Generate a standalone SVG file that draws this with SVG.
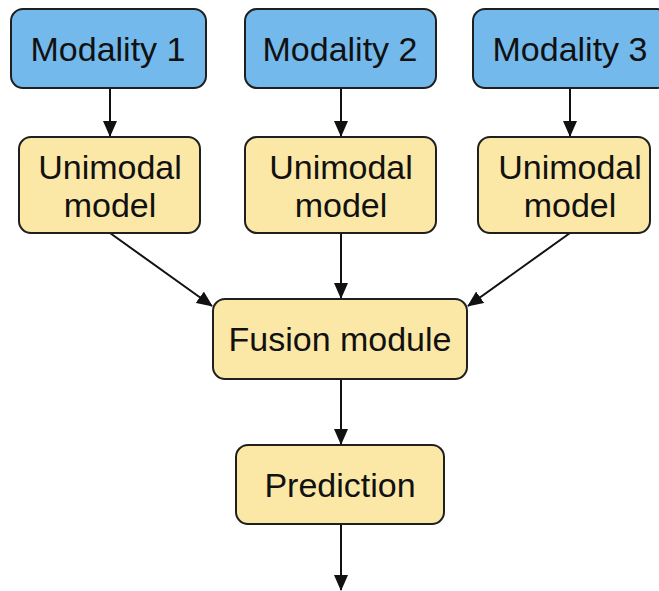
<svg xmlns="http://www.w3.org/2000/svg" width="659" height="591" viewBox="0 0 659 591">
<style>
.blue{fill:#74b9eb;stroke:#1f1f1f;stroke-width:2}
.yel{fill:#fbe8a6;stroke:#1f1f1f;stroke-width:2}
.t{font-family:"Liberation Sans",Arial,sans-serif;font-size:34px;fill:#111;text-anchor:middle}
.c{stroke:#111;stroke-width:2;fill:none;marker-end:url(#ah)}
</style>
<defs>
<marker id="ah" markerWidth="16" markerHeight="14" refX="15" refY="7" orient="auto" markerUnits="userSpaceOnUse">
<path d="M0,0 L16,7 L0,14 Z" fill="#111"/>
</marker>
</defs>
<rect width="659" height="591" fill="#fff"/>
<g id="connectors">
<line class="c" x1="110" y1="88" x2="110" y2="136"/>
<line class="c" x1="341" y1="88" x2="341" y2="136"/>
<line class="c" x1="570" y1="88" x2="570" y2="136"/>
<line class="c" x1="110" y1="233" x2="212" y2="306"/>
<line class="c" x1="341" y1="233" x2="341" y2="298"/>
<line class="c" x1="570" y1="233" x2="468" y2="306"/>
<line class="c" x1="341" y1="379" x2="341" y2="444"/>
<line class="c" x1="341" y1="524" x2="341" y2="590"/>
</g>
<g id="modality1"><rect class="blue" x="11" y="9" width="195" height="79" rx="12"/><text class="t" x="108" y="61">Modality 1</text></g>
<g id="modality2"><rect class="blue" x="245" y="9" width="191" height="79" rx="12"/><text class="t" x="340" y="61">Modality 2</text></g>
<g id="modality3"><rect class="blue" x="473" y="9" width="196" height="79" rx="12"/><text class="t" x="570" y="61">Modality 3</text></g>
<g id="unimodal1"><rect class="yel" x="19" y="137" width="181" height="96" rx="12"/><text class="t" x="110" y="179">Unimodal</text><text class="t" x="110" y="217">model</text></g>
<g id="unimodal2"><rect class="yel" x="245" y="137" width="191" height="96" rx="12"/><text class="t" x="341" y="179">Unimodal</text><text class="t" x="341" y="217">model</text></g>
<g id="unimodal3"><rect class="yel" x="478" y="137" width="172" height="96" rx="12"/><text class="t" x="570" y="179">Unimodal</text><text class="t" x="570" y="217">model</text></g>
<g id="fusion"><rect class="yel" x="213" y="299" width="254" height="80" rx="12"/><text class="t" x="340" y="351">Fusion module</text></g>
<g id="prediction"><rect class="yel" x="236" y="445" width="208" height="79" rx="12"/><text class="t" x="340" y="497">Prediction</text></g>
</svg>
